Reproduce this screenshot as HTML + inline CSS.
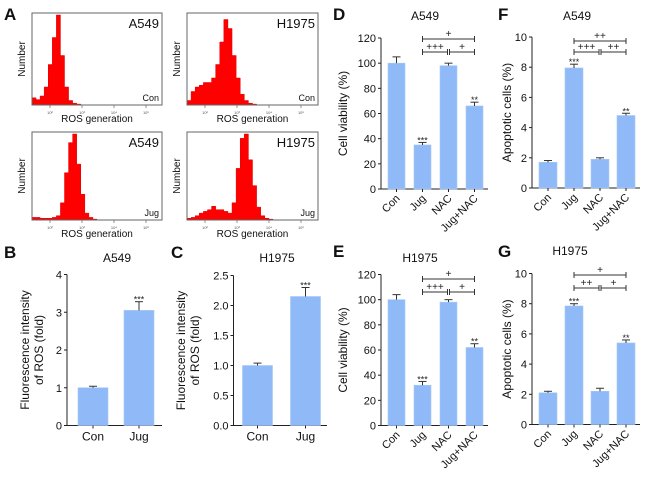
<!DOCTYPE html>
<html><head><meta charset="utf-8">
<style>
html,body{margin:0;padding:0;background:#fff;}
svg{display:block;font-family:"Liberation Sans",Arial,sans-serif;}
</style></head>
<body>
<svg id="fig" width="650" height="481" viewBox="0 0 650 481" xmlns="http://www.w3.org/2000/svg"></svg>
<script>
// ---- Panel A histogram bin counts (relative %) ----
const histA549Con = [8,6,10,20,45,75,100,55,20,5,2,1,0,0,0,0,0,0,0,0,0,0,0,0,0,0,0,0,0,0,0,0];
const histH1975Con = [5,15,20,22,25,25,30,45,70,95,85,55,30,12,5,2,1,0,0,0,0,0,0,0,0,0,0,0,0,0,0,0];
const histA549Jug = [3,3,2,2,2,3,5,20,55,90,100,65,30,8,3,1,0,0,0,0,0,0,0,0,0,0,0,0,0,0,0,0];
const histH1975Jug = [2,3,5,8,10,12,16,12,12,10,8,20,60,95,100,70,40,15,5,2,1,0,0,0,0,0,0,0,0,0,0,0];

// ---- Bar chart data ----
const catsBC = ["Con","Jug"];
const valsB = [1.0,3.05];
const errB = [0.04,0.23];
const starsB = ["","***"];
const ticksB = ["0","1","2","3","4"];
const valsC = [1.0,2.15];
const errC = [0.04,0.15];
const starsC = ["","***"];
const ticksC = ["0.0","0.5","1.0","1.5","2.0","2.5"];

const catsDG = ["Con","Jug","NAC","Jug+NAC"];
const valsD = [100,35,98,66];
const errD = [5,2,2,3];
const starsD = ["","***","","**"];
const ticksD = ["0","20","40","60","80","100","120"];
const valsE = [100,32,98,62];
const errE = [4,3,2,3];
const starsE = ["","***","","**"];
const ticksE = ["0","20","40","60","80","100","120"];
const valsF = [1.7,7.95,1.9,4.8];
const errF = [0.12,0.25,0.1,0.15];
const starsF = ["","***","","**"];
const ticksF = ["0","2","4","6","8","10"];
const valsG = [2.1,7.85,2.2,5.4];
const errG = [0.1,0.15,0.2,0.2];
const starsG = ["","***","","**"];
const ticksG = ["0","2","4","6","8","10"];
const bracketsD = ["+","+++","+"];
const bracketsE = ["+","+++","+"];
const bracketsF = ["++","+++","++"];
const bracketsG = ["+","++","+"];

const NS="http://www.w3.org/2000/svg";
const svg=document.getElementById('fig');
function mk(tag,attrs,parent){const e=document.createElementNS(NS,tag);for(const k in attrs)e.setAttribute(k,attrs[k]);(parent||svg).appendChild(e);return e;}
function txt(s,attrs,parent){const e=mk('text',attrs,parent);e.textContent=s;return e;}

[["A",4,20],["B",4,258],["C",171,258],["D",333,20],["E",333,257],["F",498,20],["G",498,257]].forEach(p=>{
  const t=txt(p[0],{x:p[1],y:p[2],'font-size':17,'font-weight':'bold',fill:'#111'});
  
  
});

function hist(data,x0,y0,w,h,cell,cond,name){
  const g=mk('g',{});
  
  
  const bw=w/data.length;
  let d='M'+x0+','+(y0+h);
  data.forEach((v,i)=>{const y=y0+h-v/100*(h-2);d+=' L'+(x0+i*bw)+','+y+' L'+(x0+(i+1)*bw)+','+y;});
  d+=' L'+(x0+w)+','+(y0+h)+' Z';
  const p=mk('path',{d:d,fill:'#ff0000',stroke:'#e00000','stroke-width':0.5},g);
  
  
  const box=mk('rect',{x:x0,y:y0,width:w,height:h,fill:'none',stroke:'#666','stroke-width':1},g);
  
  
  for(let k=0;k<4;k++){const tx=x0+18+k*32;mk('line',{x1:tx,y1:y0+h,x2:tx,y2:y0+h+3,stroke:'#666','stroke-width':0.7},g);
    const tl=txt('10'+['²','³','⁴','⁵'][k],{x:tx,y:y0+h+9,'font-size':4,'text-anchor':'middle',fill:'#555'},g);
    
    }
  const c=txt(cell,{x:x0+w-3,y:y0+15,'font-size':13,'text-anchor':'end',fill:'#111'},g);
  
  
  const cd=txt(cond,{x:x0+w-3,y:y0+h-4,'font-size':9,'text-anchor':'end',fill:'#111'},g);
  
  
  const yl=txt('Number',{x:0,y:0,'font-size':10,'text-anchor':'middle',fill:'#111',transform:'translate('+(x0-7)+','+(y0+h/2)+') rotate(-90)'},g);
  
  
  const xl=txt('ROS generation',{x:x0+w/2,y:y0+h+17,'font-size':10,'text-anchor':'middle',fill:'#111'},g);
  
  
}
hist(histA549Con,32,13,130,92,'A549','Con','histogram-a549-con');
hist(histH1975Con,187,13,131,92,'H1975','Con','histogram-h1975-con');
hist(histA549Jug,32,132,130,88,'A549','Jug','histogram-a549-jug');
hist(histH1975Jug,187,132,131,88,'H1975','Jug','histogram-h1975-jug');

function bars(o){
  const g=mk('g',{});
  
  
  const ymax=parseFloat(o.ticks[o.ticks.length-1]);
  const Y=v=>o.y0-(v/ymax)*(o.y0-o.ytop);
  const ax=mk('line',{x1:o.ax,y1:o.ytop,x2:o.ax,y2:o.y0,stroke:'#222','stroke-width':1},g);
  
  
  const xa=mk('line',{x1:o.ax,y1:o.y0,x2:o.xend,y2:o.y0,stroke:'#222','stroke-width':1},g);
  
  
  o.ticks.forEach(t=>{const y=Y(parseFloat(t));mk('line',{x1:o.ax-3,y1:y,x2:o.ax,y2:y,stroke:'#222','stroke-width':1},g);
    const tl=txt(t,{x:o.ax-5,y:y+4,'font-size':11,'text-anchor':'end',fill:'#111'},g);
    
    });
  const cx=i=>o.first+i*o.step;
  o.cats.forEach((c,i)=>{
    const x=cx(i), v=o.vals[i], e=o.errs[i];
    const b=mk('rect',{x:x-o.bw/2,y:Y(v),width:o.bw,height:o.y0-Y(v),fill:'#8fbaf7',stroke:'#a6c8f9','stroke-width':0.6},g);
    
    
    mk('line',{x1:x,y1:Y(v),x2:x,y2:Y(v+e),stroke:'#333','stroke-width':1},g);
    mk('line',{x1:x-4,y1:Y(v+e),x2:x+4,y2:Y(v+e),stroke:'#333','stroke-width':1},g);
    mk('line',{x1:x,y1:o.y0,x2:x,y2:o.y0+3,stroke:'#222','stroke-width':1},g);
    if(o.stars[i]){const s=txt(o.stars[i],{x:x,y:Y(v+e)+1,'font-size':9,'text-anchor':'middle',fill:'#222'},g);
      
      }
    let lab;
    if(o.rot){lab=txt(c,{x:0,y:0,'font-size':11,'text-anchor':'end',fill:'#111',transform:'translate('+(x+4)+','+(o.y0+10)+') rotate(-45)'},g);}
    else{lab=txt(c,{x:x,y:o.y0+15,'font-size':12,'text-anchor':'middle',fill:'#111'},g);}
    
    
  });
  const ttl=txt(o.title,{x:o.tx,y:o.ty,'font-size':12,'text-anchor':'middle',fill:'#111'},g);
  
  
  o.ylabel.forEach((l,k)=>{const t=txt(l,{x:0,y:0,'font-size':12,'text-anchor':'middle',fill:'#111',transform:'translate('+(o.ylx+k*14)+','+((o.ytop+o.y0)/2)+') rotate(-90)'},g);
    
    });
  if(o.brackets){
    const spec=[[1,3,o.b1],[1,2,o.b2],[2,3,o.b2]];
    spec.forEach((s,k)=>{const x1=cx(s[0])+(k==2?1:0),x2=cx(s[1])-(k==1?1:0),y=s[2];
      const bg=mk('g',{},g);
      
      
      mk('line',{x1:x1,y1:y,x2:x2,y2:y,stroke:'#333','stroke-width':1},bg);
      mk('line',{x1:x1,y1:y-3,x2:x1,y2:y+3,stroke:'#333','stroke-width':1},bg);
      mk('line',{x1:x2,y1:y-3,x2:x2,y2:y+3,stroke:'#333','stroke-width':1},bg);
      txt(o.brackets[k],{x:(x1+x2)/2,y:y-2,'font-size':10,'text-anchor':'middle',fill:'#222'},bg);});
  }
}
bars({name:'chart-b',cats:catsBC,vals:valsB,errs:errB,stars:starsB,ticks:ticksB,ax:67,ytop:274.5,y0:425.5,xend:162,first:93,step:46,bw:30,rot:false,title:'A549',tx:117,ty:262,ylabel:['Fluorescence intensity','of ROS (fold)'],ylx:29});
bars({name:'chart-c',cats:catsBC,vals:valsC,errs:errC,stars:starsC,ticks:ticksC,ax:233.5,ytop:275.5,y0:425.5,xend:327,first:257.5,step:48,bw:30,rot:false,title:'H1975',tx:277,ty:262,ylabel:['Fluorescence intensity','of ROS (fold)'],ylx:185});
bars({name:'chart-d',cats:catsDG,vals:valsD,errs:errD,stars:starsD,ticks:ticksD,ax:381,ytop:38,y0:189,xend:488,first:396.5,step:26,bw:17,rot:true,title:'A549',tx:425,ty:20,ylabel:['Cell viability (%)'],ylx:347,brackets:bracketsD,b1:39,b2:52});
bars({name:'chart-e',cats:catsDG,vals:valsE,errs:errE,stars:starsE,ticks:ticksE,ax:381,ytop:274.5,y0:425.5,xend:488,first:396.5,step:26,bw:17,rot:true,title:'H1975',tx:420,ty:262,ylabel:['Cell viability (%)'],ylx:347,brackets:bracketsE,b1:279,b2:292});
bars({name:'chart-f',cats:catsDG,vals:valsF,errs:errF,stars:starsF,ticks:ticksF,ax:532,ytop:37,y0:188,xend:640,first:548,step:26,bw:18,rot:true,title:'A549',tx:577,ty:20,ylabel:['Apoptotic cells (%)'],ylx:511,brackets:bracketsF,b1:41,b2:52});
bars({name:'chart-g',cats:catsDG,vals:valsG,errs:errG,stars:starsG,ticks:ticksG,ax:532,ytop:273.5,y0:424.5,xend:640,first:548,step:26,bw:18,rot:true,title:'H1975',tx:570,ty:255,ylabel:['Apoptotic cells (%)'],ylx:511,brackets:bracketsG,b1:275,b2:288});
</script>
</body></html>
